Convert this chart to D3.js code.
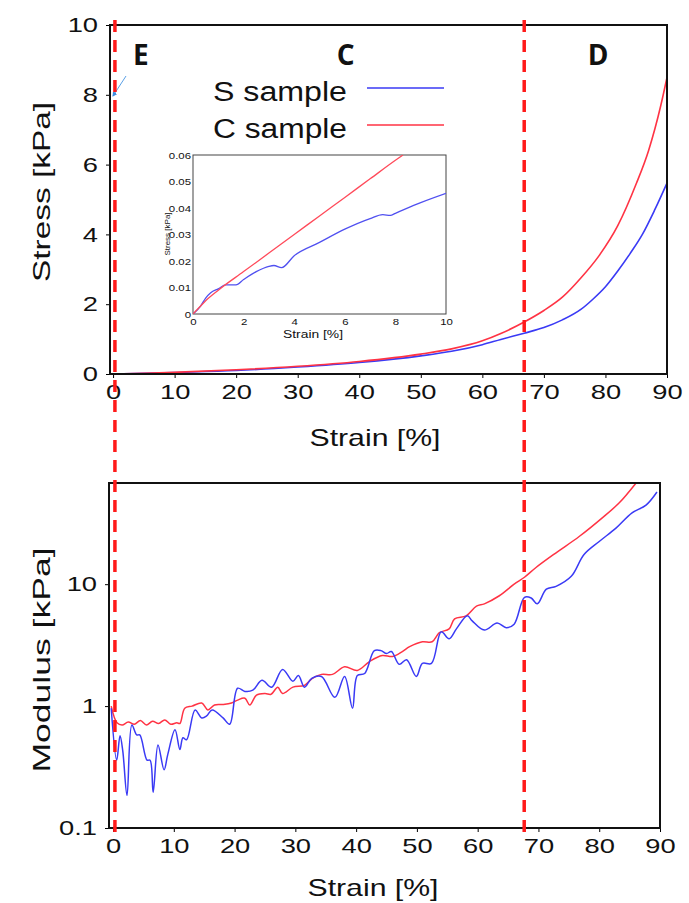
<!DOCTYPE html>
<html>
<head>
<meta charset="utf-8">
<script src="https://cdn.jsdelivr.net/npm/d3@7"></script>
<style>
  body { margin: 0; background: #fff; }
  svg text { font-family: "Liberation Sans", Arial, sans-serif; fill: #111; }
</style>
</head>
<body>
<div id="chart"></div>
<script>
// stress-strain curves (strain %, stress kPa)
const stressS = [[0,0],[5,0.02],[10,0.045],[20,0.1],[30,0.2],[40,0.33],[50,0.52],[55,0.65],[60,0.84],[63,0.99],[66.8,1.17],[70,1.33],[73,1.55],[76,1.85],[78,2.15],[80,2.5],[82,2.95],[84,3.45],[86,4.0],[88,4.7],[90,5.47]];
const stressC = [[0,0],[5,0.02],[10,0.05],[20,0.12],[30,0.22],[40,0.36],[50,0.57],[55,0.72],[60,0.95],[63,1.16],[66.8,1.49],[70,1.82],[73,2.2],[76,2.75],[79,3.4],[82,4.25],[85,5.45],[87,6.4],[89,7.7],[90,8.5]];

// inset, first 10 % strain
const insetS = [[0,0],[0.3,0.003],[0.5,0.006],[0.7,0.008],[1,0.0095],[1.3,0.011],[1.7,0.011],[2,0.013],[2.5,0.016],[3,0.018],[3.2,0.0183],[3.5,0.0175],[4,0.022],[5,0.027],[6,0.032],[7,0.036],[7.5,0.0375],[7.8,0.0372],[8,0.038],[9,0.042],[10,0.0455]];
const insetC = [[0,0],[0.3,0.003],[0.5,0.005],[1,0.009],[2,0.016],[3,0.023],[4,0.030],[5,0.037],[6,0.044],[7,0.051],[8,0.058],[8.3,0.06]];

// tangent modulus (strain %, kPa)
const modulusS = [[-0.3,0.96],[0.6,0.36],[1.15,0.57],[1.6,0.43],[2.3,0.185],[3.1,0.70],[3.9,0.58],[4.4,0.58],[5.6,0.36],[6.1,0.36],[6.6,0.196],[7.4,0.48],[8.4,0.30],[9,0.40],[10.2,0.64],[11,0.44],[11.5,0.55],[12.1,0.53],[13.5,0.93],[14.6,0.80],[15.4,0.83],[16.3,0.93],[18.1,0.80],[19.2,0.71],[20.5,1.40],[21.7,1.32],[23,1.35],[24.5,1.63],[26.1,1.43],[27.9,2.0],[29.6,1.6],[30.5,1.78],[31.5,1.43],[32.7,1.69],[34.3,1.75],[36.5,1.18],[38.1,1.75],[39.4,0.96],[40.2,1.78],[41.4,1.85],[43,2.85],[44.1,2.85],[45,2.7],[45.8,2.8],[47.1,2.2],[48.3,2.4],[49.9,1.75],[50.9,2.24],[52.4,2.24],[54,4.07],[55.3,3.57],[56.5,4.3],[58.3,5.5],[59.1,5.0],[61.1,4.2],[63.2,4.8],[64.7,4.4],[66,4.7],[67.7,7.8],[68.8,7.7],[69.8,6.9],[71.3,9.1],[72.9,9.6],[75.4,11.6],[77.5,17.5],[80,22.4],[82.8,29],[85.4,38.5],[87.7,44.5],[89.5,57]];
const modulusC = [[-0.3,1.0],[0.65,0.73],[1.5,0.70],[2.5,0.74],[3.5,0.71],[4.5,0.76],[5.5,0.70],[6.5,0.75],[7.5,0.72],[8.5,0.77],[9.5,0.71],[10.5,0.73],[11,0.72],[11.8,0.96],[13,1.0],[14.6,1.06],[15.6,0.93],[16.7,1.02],[18,1.03],[19.5,1.06],[20.5,1.12],[21.7,1.16],[22.5,1.02],[23.6,1.23],[25,1.27],[26,1.25],[27.1,1.43],[27.9,1.27],[29.6,1.43],[31.5,1.48],[32.8,1.69],[34.3,1.82],[36.1,1.82],[38.1,2.1],[40.2,1.96],[42.2,2.32],[44.3,2.6],[46,2.55],[47.6,2.8],[48.8,3.07],[50.9,3.37],[52.5,3.37],[53.7,4.0],[55.3,4.3],[56.2,5.2],[58.1,5.5],[59.8,6.6],[61.1,6.9],[63.5,8.0],[66,10],[67.7,11.4],[69.6,13.7],[72.9,18.1],[76.7,24.6],[80.5,35],[83.3,46.5],[86,67]];

const strainTicks = [0,10,20,30,40,50,60,70,80,90];
const stressTicks = [0,2,4,6,8,10];
const modulusTicks = [0.1,1,10];
const insetXTicks = [0,2,4,6,8,10];
const insetYTicks = [0,0.01,0.02,0.03,0.04,0.05,0.06];
const regionLines = [0.3, 66.8];
const regionLabels = [["E",4.5],["C",37.8],["D",78.8]];
const seriesNames = ["S sample","C sample"];

const blue = "#3a3af5", red = "#ff3344";

const svg = d3.select("#chart").append("svg")
    .attr("width", 689).attr("height", 903);

// make text a bit wider, like the original figure
function stretch(sel, k) {
    sel.each(function () {
        const w = this.getComputedTextLength();
        d3.select(this).attr("textLength", w * k).attr("lengthAdjust", "spacingAndGlyphs");
    });
}

/////////////////////// upper panel: stress
const upper = { left: 110, right: 667, top: 25, bottom: 374 };
const x1 = d3.scaleLinear().domain([-0.5, 90]).range([upper.left, upper.right]);
const y1 = d3.scaleLinear().domain([0, 10]).range([upper.bottom, upper.top]);

const gx1 = svg.append("g").attr("transform", `translate(0,${upper.bottom})`)
    .call(d3.axisBottom(x1).tickValues(strainTicks).tickSizeInner(4).tickSizeOuter(0).tickPadding(6));
const gy1 = svg.append("g").attr("transform", `translate(${upper.left},0)`)
    .call(d3.axisLeft(y1).tickValues(stressTicks).tickSizeInner(4).tickSizeOuter(0).tickPadding(8));
[gx1, gy1].forEach(g => {
    g.select(".domain").remove();
    g.selectAll("text").style("font-size", "21px").attr("fill", "#111");
    stretch(g.selectAll("text"), 1.3);
});

const line1 = d3.line().x(d => x1(d[0])).y(d => y1(d[1])).curve(d3.curveMonotoneX);
svg.append("path").datum(stressS).attr("d", line1).attr("fill", "none").attr("stroke", blue).attr("stroke-width", 1.6);
svg.append("path").datum(stressC).attr("d", line1).attr("fill", "none").attr("stroke", red).attr("stroke-width", 1.6);

svg.append("rect").attr("x", upper.left).attr("y", upper.top)
    .attr("width", upper.right - upper.left).attr("height", upper.bottom - upper.top)
    .attr("fill", "none").attr("stroke", "#111").attr("stroke-width", 2);

svg.append("text").attr("x", 375).attr("y", 446).attr("text-anchor", "middle")
    .style("font-size", "24px").text("Strain [%]").attr("textLength", 131).attr("lengthAdjust", "spacingAndGlyphs");
svg.append("text").attr("transform", "translate(50,192) rotate(-90)").attr("text-anchor", "middle")
    .style("font-size", "24px").text("Stress [kPa]").attr("textLength", 180).attr("lengthAdjust", "spacingAndGlyphs");

// region letters
svg.selectAll(".region").data(regionLabels).join("text")
    .attr("class", "region")
    .attr("x", d => x1(d[1])).attr("y", 65).attr("text-anchor", "middle")
    .style("font-family", "'Open Sans', sans-serif").style("font-weight", 700).style("font-size", "28px")
    .text(d => d[0]);

// legend
const legend = svg.selectAll(".legend").data(seriesNames).join("g")
    .attr("class", "legend")
    .attr("transform", (d, i) => `translate(0,${i * 37})`);
legend.append("text").attr("x", 213).attr("y", 101).style("font-size", "27px").text(d => d)
    .attr("textLength", 134).attr("lengthAdjust", "spacingAndGlyphs");
legend.append("line").attr("x1", 367).attr("x2", 444).attr("y1", 88).attr("y2", 88)
    .attr("stroke", (d, i) => i === 0 ? blue : red).attr("stroke-width", 1.6);

// little blue arrow at the left axis
svg.append("defs").append("marker").attr("id", "arrow")
    .attr("viewBox", "0 0 10 10").attr("refX", 8).attr("refY", 5)
    .attr("markerWidth", 5).attr("markerHeight", 5).attr("orient", "auto")
    .append("path").attr("d", "M0,0L10,5L0,10z").attr("fill", "#3b8be0");
svg.append("line").attr("x1", 126).attr("y1", 76).attr("x2", 113).attr("y2", 96)
    .attr("stroke", "#5aa0e6").attr("stroke-width", 1).attr("marker-end", "url(#arrow)");

/////////////////////// inset
const ins = { left: 193, right: 446, top: 155, bottom: 314 };
const xi = d3.scaleLinear().domain([0, 10]).range([ins.left, ins.right]);
const yi = d3.scaleLinear().domain([0, 0.06]).range([ins.bottom, ins.top]);
svg.append("rect").attr("x", ins.left).attr("y", ins.top)
    .attr("width", ins.right - ins.left).attr("height", ins.bottom - ins.top)
    .attr("fill", "#fff").attr("stroke", "#444").attr("stroke-width", 1);
const gxi = svg.append("g").attr("transform", `translate(0,${ins.bottom})`)
    .call(d3.axisBottom(xi).tickValues(insetXTicks).tickSize(0).tickPadding(4));
const gyi = svg.append("g").attr("transform", `translate(${ins.left},0)`)
    .call(d3.axisLeft(yi).tickValues(insetYTicks).tickSize(0).tickPadding(2).tickFormat(d => d === 0 ? "0" : d3.format(".2f")(d)));
[gxi, gyi].forEach(g => {
    g.select(".domain").remove();
    g.selectAll("text").style("font-size", "9.5px").attr("fill", "#333");
    stretch(g.selectAll("text"), 1.2);
});
svg.append("clipPath").attr("id", "clipi").append("rect")
    .attr("x", ins.left).attr("y", ins.top).attr("width", ins.right - ins.left).attr("height", ins.bottom - ins.top);
const linei = d3.line().x(d => xi(d[0])).y(d => yi(d[1])).curve(d3.curveMonotoneX);
svg.append("path").datum(insetS).attr("d", linei).attr("clip-path", "url(#clipi)")
    .attr("fill", "none").attr("stroke", "#5050f0").attr("stroke-width", 1.3);
svg.append("path").datum(insetC).attr("d", linei).attr("clip-path", "url(#clipi)")
    .attr("fill", "none").attr("stroke", "#ff4a5a").attr("stroke-width", 1.3);
svg.append("text").attr("x", 313).attr("y", 338).attr("text-anchor", "middle")
    .style("font-size", "10px").attr("fill", "#333").text("Strain [%]")
    .attr("textLength", 60).attr("lengthAdjust", "spacingAndGlyphs");
svg.append("text").attr("transform", "translate(170,234) rotate(-90)").attr("text-anchor", "middle")
    .style("font-size", "8px").attr("fill", "#333").text("Stress [kPa]");

/////////////////////// lower panel: modulus
const lower = { left: 109, right: 660, top: 483, bottom: 828 };
const x2 = d3.scaleLinear().domain([-0.5, 90]).range([lower.left + 1, lower.right]);
const y2 = d3.scaleLog().domain([0.1, Math.pow(10, 1.83)]).range([lower.bottom, lower.top]);

const gx2 = svg.append("g").attr("transform", `translate(0,${lower.bottom})`)
    .call(d3.axisBottom(x2).tickValues(strainTicks).tickSizeInner(4).tickSizeOuter(0).tickPadding(6));
const gy2 = svg.append("g").attr("transform", `translate(${lower.left},0)`)
    .call(d3.axisLeft(y2).tickValues(modulusTicks).tickFormat(d3.format("")).tickSizeInner(4).tickSizeOuter(0).tickPadding(8));
[gx2, gy2].forEach(g => {
    g.select(".domain").remove();
    g.selectAll("text").style("font-size", "21px").attr("fill", "#111");
    stretch(g.selectAll("text"), 1.3);
});

svg.append("clipPath").attr("id", "clipb").append("rect")
    .attr("x", lower.left).attr("y", lower.top).attr("width", lower.right - lower.left).attr("height", lower.bottom - lower.top);
const line2 = d3.line().x(d => x2(d[0])).y(d => y2(d[1])).curve(d3.curveCatmullRom);
svg.append("path").datum(modulusC).attr("d", line2).attr("clip-path", "url(#clipb)")
    .attr("fill", "none").attr("stroke", red).attr("stroke-width", 1.5);
svg.append("path").datum(modulusS).attr("d", line2).attr("clip-path", "url(#clipb)")
    .attr("fill", "none").attr("stroke", blue).attr("stroke-width", 1.5);

svg.append("rect").attr("x", lower.left).attr("y", lower.top)
    .attr("width", lower.right - lower.left).attr("height", lower.bottom - lower.top)
    .attr("fill", "none").attr("stroke", "#111").attr("stroke-width", 2);

svg.append("text").attr("x", 373).attr("y", 896).attr("text-anchor", "middle")
    .style("font-size", "24px").text("Strain [%]").attr("textLength", 131).attr("lengthAdjust", "spacingAndGlyphs");
svg.append("text").attr("transform", "translate(50,660) rotate(-90)").attr("text-anchor", "middle")
    .style("font-size", "24px").text("Modulus [kPa]").attr("textLength", 225).attr("lengthAdjust", "spacingAndGlyphs");

/////////////////////// region boundaries across both panels
svg.selectAll(".boundary").data(regionLines).join("line")
    .attr("class", "boundary")
    .attr("x1", d => x1(d)).attr("x2", d => x1(d))
    .attr("y1", 20).attr("y2", 836)
    .attr("stroke", "#ff1a1a").attr("stroke-width", 3.5).attr("stroke-dasharray", "12,8");
</script>
</body>
</html>
